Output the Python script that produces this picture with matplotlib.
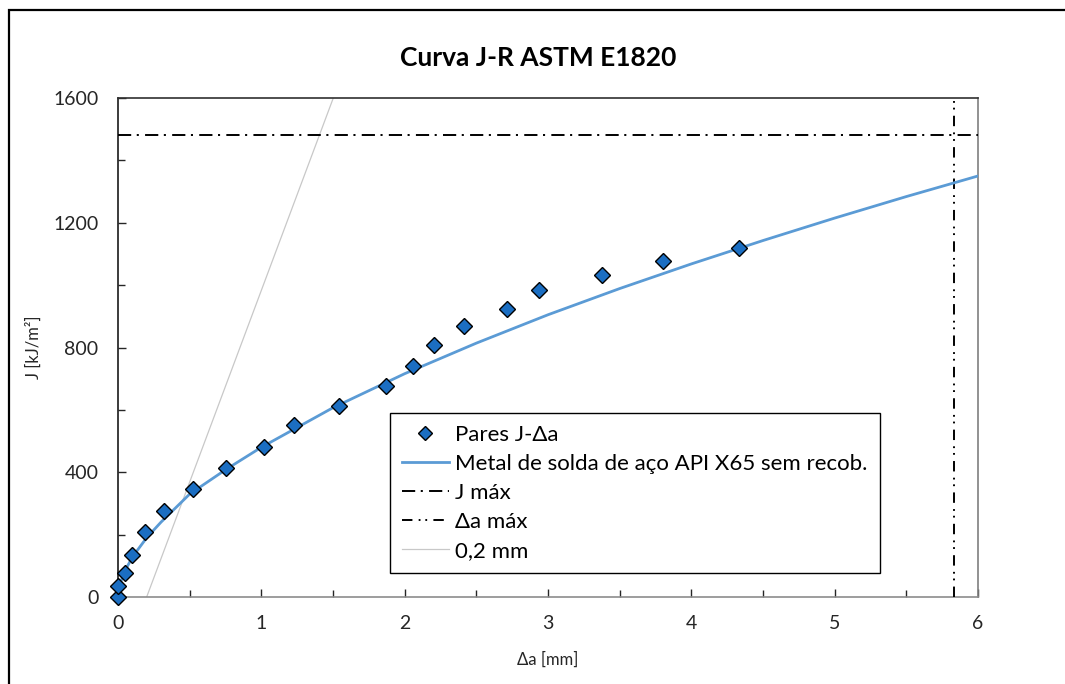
import numpy as np
import matplotlib
matplotlib.use("Agg")
import matplotlib.pyplot as plt
from matplotlib.lines import Line2D
from matplotlib.ticker import MultipleLocator

plt.rcParams["font.family"] = ["Lato", "DejaVu Sans"]
plt.rcParams["lines.scale_dashes"] = False

# -------------------------
# Data
# -------------------------
# measured J-R pairs
da_pts = [0.0, 0.0, 0.047, 0.10, 0.19, 0.32, 0.52, 0.756, 1.02, 1.225, 1.54, 1.87,
          2.06, 2.205, 2.414, 2.712, 2.94, 3.375, 3.805, 4.333]
j_pts = [0, 34, 77, 136, 208, 276, 345, 413, 480, 551, 611, 678,
         742, 807, 870, 925, 985, 1032, 1077, 1118]

# fitted power-law curve for the weld metal
da_fit = [0.0, 0.02, 0.05, 0.1, 0.2, 0.3, 0.5, 0.75, 1.0, 1.5, 2.0, 2.5,
          3.0, 3.5, 4.0, 4.5, 5.0, 5.5, 6.0]
j_fit = [0, 50, 85, 128, 190, 240, 330, 408, 480, 607, 716, 814,
         905, 989, 1068, 1143, 1215, 1284, 1350]

# validity limits
J_MAX = 1482
DA_MAX = 5.83

# 0.2 mm offset (blunting) line
da_offset = [0.2, 1.502]
j_offset = [0, 1600]

x_ticks = [0, 1, 2, 3, 4, 5, 6]
y_ticks = [0, 400, 800, 1200, 1600]

# -------------------------
# Figure
# -------------------------
fig = plt.figure(figsize=(10.65, 6.84), dpi=100)
ax = fig.add_axes([0.1108, 0.1272, 0.8075, 0.7295])

# chart area border (left and top edges fall inside the image)
bx, by = 9 / 1065, 1 - 10 / 684
fig.lines.append(Line2D([bx, bx, 1.01], [-0.01, by, by], transform=fig.transFigure,
                        color="black", lw=1.6, solid_joinstyle="miter"))

ax.plot(da_offset, j_offset, color="#c8c8c8", lw=0.9, label="0,2 mm", zorder=2)
ax.axhline(J_MAX, color="black", lw=1.4, dashes=(9.5, 4, 1.5, 4.5), label="J máx", zorder=3)
ax.axvline(DA_MAX, color="black", lw=1.4, dashes=(7.5, 4.5, 1.3, 3.5, 1.3, 4.5),
           label="Δa máx", zorder=3)
ax.plot(da_fit, j_fit, color="#5b9bd5", lw=2.0,
        label="Metal de solda de aço API X65 sem recob.", zorder=4)
ax.plot(da_pts, j_pts, linestyle="none", marker="D", markersize=8.5,
        markerfacecolor="#1b6ec2", markeredgecolor="black", markeredgewidth=1.0,
        label="Pares J-Δa", zorder=5, clip_on=False)

ax.set_xlim(0, 6)
ax.set_ylim(0, 1600)
ax.set_xticks(x_ticks)
ax.set_yticks(y_ticks)
ax.xaxis.set_minor_locator(MultipleLocator(0.5))
ax.yaxis.set_minor_locator(MultipleLocator(200))
ax.tick_params(which="both", direction="in", top=False, right=False,
               labelsize=14, colors="#262626")
ax.tick_params(which="major", length=6, width=1.0)
ax.tick_params(which="minor", length=5, width=1.0)
ax.tick_params(axis="x", pad=13)
ax.tick_params(axis="y", pad=14)

ax.spines["left"].set_color("#1a1a1a")
ax.spines["top"].set_color("#303030")
ax.spines["right"].set_color("#7f7f7f")
ax.spines["bottom"].set_color("#8c8c8c")
for s in ax.spines.values():
    s.set_linewidth(1.2)

ax.set_xlabel("Δa [mm]", fontsize=12, color="#262626", labelpad=14)
ax.set_ylabel("J [kJ/m²]", fontsize=12, color="#262626", labelpad=8)
fig.text(0.505, 1 - 58 / 684, "Curva J-R ASTM E1820", fontsize=19,
         fontweight="bold", ha="center", va="center")

handles, labels = ax.get_legend_handles_labels()
order = [4, 3, 1, 2, 0]
leg = ax.legend([handles[i] for i in order], [labels[i] for i in order],
                loc="upper left", bbox_to_anchor=(0.316, 0.369), borderaxespad=0,
                fontsize=16, frameon=True, fancybox=False, framealpha=1,
                edgecolor="black", handlelength=2.1, handletextpad=0.3,
                labelspacing=0.4, borderpad=0.55, markerscale=0.85)
leg.get_frame().set_linewidth(1.0)

fig.savefig("out.png", dpi=100)
